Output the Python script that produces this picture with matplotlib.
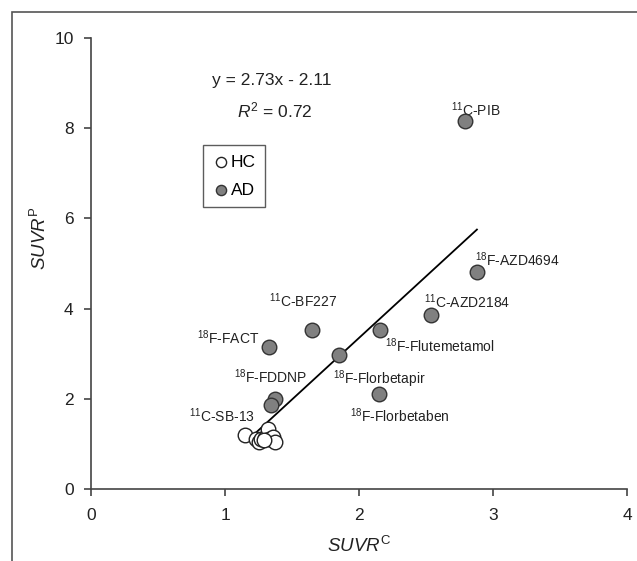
import matplotlib
matplotlib.use("Agg")
import matplotlib.pyplot as plt
from matplotlib.patches import Rectangle

# AD tracers: SUVR cortex (x) vs SUVR peak (y)
adNames = ["$^{11}$C-PIB", "$^{18}$F-AZD4694", "$^{11}$C-AZD2184", "$^{18}$F-Flutemetamol",
           "$^{11}$C-BF227", "$^{18}$F-FACT", "$^{18}$F-Florbetapir", "$^{18}$F-Florbetaben",
           "$^{18}$F-FDDNP", "$^{11}$C-SB-13"]
adX = [2.79, 2.88, 2.54, 2.16, 1.65, 1.33, 1.85, 2.15, 1.37, 1.34]
adY = [8.17, 4.82, 3.86, 3.53, 3.53, 3.15, 2.97, 2.11, 2.00, 1.87]

# HC points
hcX = [1.15, 1.23, 1.25, 1.27, 1.30, 1.32, 1.33, 1.36, 1.37, 1.29]
hcY = [1.20, 1.12, 1.04, 1.10, 1.13, 1.34, 1.12, 1.15, 1.05, 1.08]

slope = 2.73
intercept = -2.11
r2 = 0.72
fitRange = [1.23, 2.88]

xTicks = [0, 1, 2, 3, 4]
yTicks = [0, 2, 4, 6, 8, 10]

# label offsets (pixels) and alignment
labelOffsets = [(11, 11, "center"), (-2, 12, "left"), (-7, 13, "left"), (5, -16, "left"),
                (-43, 29, "left"), (-10, 9, "right"), (-6, -24, "left"), (-29, -22, "left"),
                (-41, 22, "left"), (-16, -11, "right")]

plt.rcParams['font.family'] = ['Liberation Sans', 'DejaVu Sans']
plt.rcParams['mathtext.fontset'] = 'custom'
plt.rcParams['mathtext.rm'] = 'Liberation Sans'
plt.rcParams['mathtext.it'] = 'Liberation Sans:italic'

fig = plt.figure(figsize=(6.37, 5.61), dpi=100)
ax = fig.add_axes([0.1429, 0.1283, 0.8414, 0.804])

# рамка вокруг всей картинки
fig.patches.append(Rectangle((12 / 637, -0.1), 1.2, 1.1 - 12 / 561, transform=fig.transFigure,
                             fill=False, edgecolor="#555555", linewidth=1.2))

spineColor = "#444444"
for side in ['top', 'right']:
    ax.spines[side].set_visible(False)
for side in ['left', 'bottom']:
    ax.spines[side].set_color(spineColor)
    ax.spines[side].set_linewidth(1.2)
ax.tick_params(colors=spineColor, labelcolor="#222222", length=5, width=1.2, labelsize=12.5, pad=7.5)
ax.tick_params(axis='x', pad=9)

# линия регрессии
ax.plot(fitRange, [slope * v + intercept for v in fitRange], color="black", linewidth=1.3, zorder=2)

ax.scatter(hcX, hcY, s=110, facecolor="white", edgecolor="#222222", linewidth=1.0, zorder=3, label="HC")
ax.scatter(adX, adY, s=110, facecolor="#808080", edgecolor="#333333", linewidth=1.0, zorder=4, label="AD")

for name, x, y, (dx, dy, ha) in zip(adNames, adX, adY, labelOffsets):
    ax.annotate(name, (x, y), xytext=(dx, dy), textcoords="offset pixels",
                ha=ha, va="center", fontsize=10, color="#222222")

ax.text(1.35, 9.05, "y = %.2fx - %.2f" % (slope, -intercept), ha="center", va="center", fontsize=12.5, color="#222222")
ax.text(1.37, 8.40, "$R^2$ = %.2f" % r2, ha="center", va="center", fontsize=12.5, color="#222222")

leg = ax.legend(loc="upper left", bbox_to_anchor=(0.209, 0.763), fontsize=12.5, frameon=True, fancybox=False,
                handletextpad=0.05, borderpad=0.55, handlelength=1.0, markerscale=0.7, labelspacing=0.75,
                borderaxespad=0)
leg.get_frame().set_edgecolor("#333333")
leg.get_frame().set_linewidth(1.0)

ax.set_xlim(0, 4)
ax.set_ylim(0, 10)
ax.set_xticks(xTicks)
ax.set_yticks(yTicks)
ax.set_xlabel(r"$\mathit{SUVR}^{\mathrm{C}}$", fontsize=13.5, color="#222222")
ax.set_ylabel(r"$\mathit{SUVR}^{\mathrm{P}}$", fontsize=13.5, color="#222222")
ax.xaxis.set_label_coords(0.5, -0.103)
ax.yaxis.set_label_coords(-0.076, 0.557)

fig.savefig("out.png", dpi=100)
